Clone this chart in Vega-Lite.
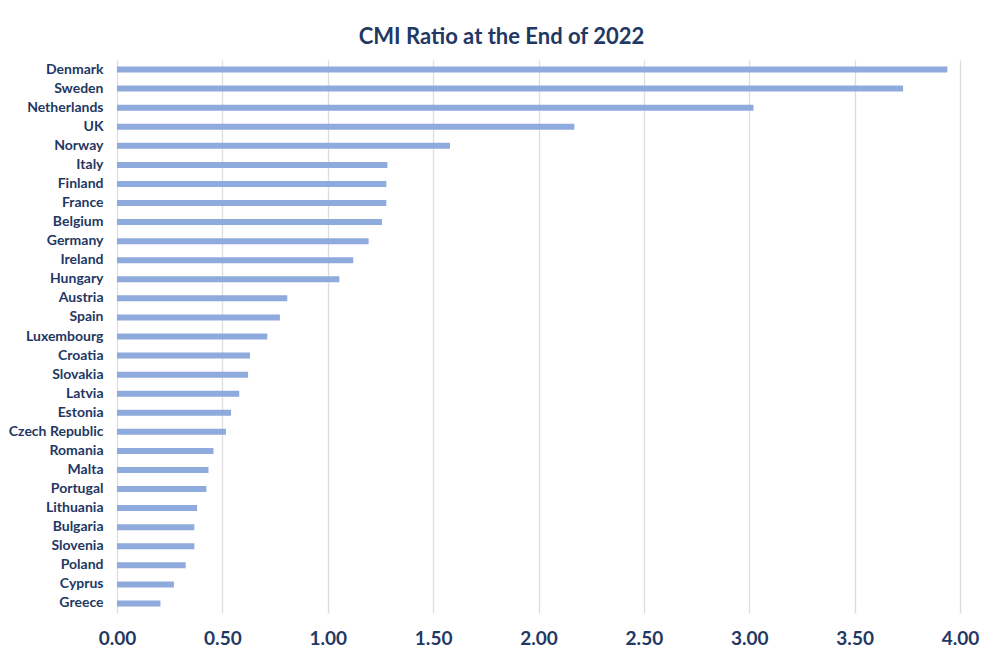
{
  "$schema": "https://vega.github.io/schema/vega-lite/v6.json",
  "width": 843,
  "height": 553,
  "autosize": "none",
  "padding": {"left": 117, "top": 60, "right": 21, "bottom": 35},
  "background": "white",
  "title": {
    "text": "CMI Ratio at the End of 2022",
    "font": "Lato",
    "fontSize": 22,
    "fontWeight": "bold",
    "color": "#1F3864",
    "anchor": "middle",
    "frame": "group",
    "dx": -37,
    "offset": 11
  },
  "data": {
    "values": [
      {"country": "Denmark", "ratio": 3.94},
      {"country": "Sweden", "ratio": 3.73},
      {"country": "Netherlands", "ratio": 3.02},
      {"country": "UK", "ratio": 2.17},
      {"country": "Norway", "ratio": 1.58},
      {"country": "Italy", "ratio": 1.283},
      {"country": "Finland", "ratio": 1.278},
      {"country": "France", "ratio": 1.278},
      {"country": "Belgium", "ratio": 1.257},
      {"country": "Germany", "ratio": 1.194},
      {"country": "Ireland", "ratio": 1.121},
      {"country": "Hungary", "ratio": 1.055},
      {"country": "Austria", "ratio": 0.808},
      {"country": "Spain", "ratio": 0.773},
      {"country": "Luxembourg", "ratio": 0.713},
      {"country": "Croatia", "ratio": 0.631},
      {"country": "Slovakia", "ratio": 0.622},
      {"country": "Latvia", "ratio": 0.58},
      {"country": "Estonia", "ratio": 0.541},
      {"country": "Czech Republic", "ratio": 0.517},
      {"country": "Romania", "ratio": 0.458},
      {"country": "Malta", "ratio": 0.434},
      {"country": "Portugal", "ratio": 0.424},
      {"country": "Lithuania", "ratio": 0.38},
      {"country": "Bulgaria", "ratio": 0.367},
      {"country": "Slovenia", "ratio": 0.367},
      {"country": "Poland", "ratio": 0.326},
      {"country": "Cyprus", "ratio": 0.27},
      {"country": "Greece", "ratio": 0.206}
    ]
  },
  "mark": {"type": "bar", "color": "#8FAADC", "height": 6},
  "encoding": {
    "y": {
      "field": "country",
      "type": "nominal",
      "sort": null,
      "title": null,
      "scale": {"paddingInner": 0, "paddingOuter": 0},
      "axis": {
        "domain": false,
        "ticks": false,
        "grid": false,
        "labelFont": "Lato",
        "labelFontSize": 14,
        "labelFontWeight": "bold",
        "labelColor": "#1F3864",
        "labelPadding": 14
      }
    },
    "x": {
      "field": "ratio",
      "type": "quantitative",
      "title": null,
      "scale": {"domain": [0, 4], "nice": false},
      "axis": {
        "values": [0, 0.5, 1, 1.5, 2, 2.5, 3, 3.5, 4],
        "format": ".2f",
        "domain": false,
        "ticks": false,
        "grid": true,
        "gridColor": "#DDDDDD",
        "gridWidth": 1.3,
        "labelFont": "Lato",
        "labelFontSize": 19,
        "labelFontWeight": "bold",
        "labelColor": "#1F3864",
        "labelPadding": 16,
        "labelFlush": false
      }
    }
  },
  "config": {
    "view": {"stroke": null}
  }
}
